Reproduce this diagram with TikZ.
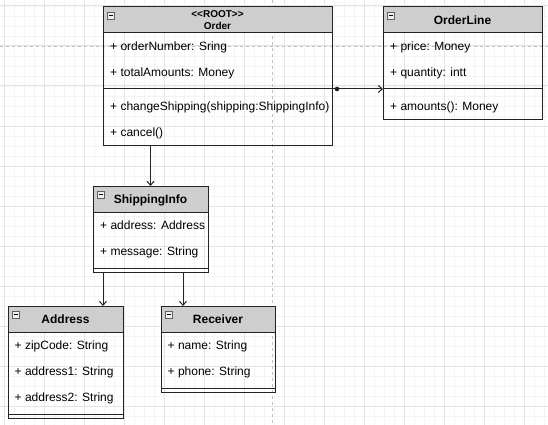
\documentclass[tikz,border=0pt]{standalone}
\usepackage{fontspec}
\setmainfont{Liberation Sans}
\usetikzlibrary{arrows.meta}
\definecolor{hdrfill}{RGB}{206,206,206}
\definecolor{minorg}{RGB}{244,244,244}
\definecolor{majorg}{RGB}{228,228,228}
\definecolor{pageln}{RGB}{192,192,192}
\definecolor{edgec}{RGB}{35,35,35}
\begin{document}
\begin{tikzpicture}[x=1pt,y=-1pt,
  box/.style={draw=edgec, line width=1pt, anchor=north west, inner sep=0, outer sep=0},
  head/.style={draw=edgec, line width=1pt, fill=hdrfill, anchor=north west, inner sep=0, outer sep=0, minimum height=26},
  row/.style={anchor=west, inner sep=0, text height=8.6, text depth=0, font=\fontsize{12}{14}\selectfont},
  ttl/.style={inner sep=0, text height=8.6, text depth=0, font=\fontsize{12}{14}\selectfont\bfseries},
  icon/.style={draw=gray!75!black, fill=gray!12, line width=0.6pt, minimum size=7, inner sep=0, anchor=north west,
    path picture={\draw[black, line width=1.3pt] ([xshift=1.6pt]path picture bounding box.west) -- ([xshift=-1.6pt]path picture bounding box.east);}},
  sepline/.style={draw=edgec, line width=1pt},
  conn/.style={draw=edgec, line width=1pt, -{Straight Barb[length=4,width=7]}},
  minorline/.style={draw=minorg, line width=0.8pt},
  majorline/.style={draw=majorg, line width=1pt},
  pagebreak/.style={draw=pageln, line width=0.8pt, dash pattern=on 3pt off 3pt}
]
\useasboundingbox[fill=white] (0,0) rectangle (548,425);
% grid
\foreach \x in {4,14,...,544} \draw[minorline] (\x,0) -- (\x,425);
\foreach \y in {6,16,...,416} \draw[minorline] (0,\y) -- (548,\y);
\foreach \x in {4,44,...,524} \draw[majorline] (\x,0) -- (\x,425);
\foreach \y in {6,46,...,406} \draw[majorline] (0,\y) -- (548,\y);
% page breaks
\draw[pagebreak] (0,46) -- (548,46);
\draw[pagebreak] (272,0) -- (272,425);

% Order
\node[box, minimum width=229, minimum height=138] (order) at (103,7) {};
\node[head, minimum width=229] (orderH) at (103,7) {};
\node[icon] (orderI) at (107,12) {};
\node[inner sep=0, align=center, font=\fontsize{10}{11.5}\selectfont\bfseries] (orderT) at (217.5,20.3) {<\kern0pt<ROOT>\kern0pt>\\Order};
\node[row] (orderA1) at (110,46) {+ orderNumber: Sring};
\node[row] (orderA2) at (110,72) {+ totalAmounts: Money};
\draw[sepline] (103,89) -- (332,89);
\node[row] (orderM1) at (110,106) {+ changeShipping(shipping:ShippingInfo)};
\node[row] (orderM2) at (110,132) {+ cancel()};

% OrderLine
\node[box, minimum width=159, minimum height=112] (orderline) at (383,7) {};
\node[head, minimum width=159] (orderlineH) at (383,7) {};
\node[icon] (orderlineI) at (387,12) {};
\node[ttl] (orderlineT) at (462.5,20) {OrderLine};
\node[row] (orderlineA1) at (390,46) {+ price: Money};
\node[row] (orderlineA2) at (390,72) {+ quantity: intt};
\draw[sepline] (383,89) -- (542,89);
\node[row] (orderlineM1) at (390,106) {+ amounts(): Money};

% ShippingInfo
\node[box, minimum width=115, minimum height=86] (ship) at (93,186) {};
\node[head, minimum width=115] (shipH) at (93,186) {};
\node[icon] (shipI) at (97,191) {};
\node[ttl] (shipT) at (150.5,199) {ShippingInfo};
\node[row] (shipA1) at (100,225) {+ address: Address};
\node[row] (shipA2) at (100,251) {+ message: String};
\draw[sepline] (93,268) -- (208,268);

% Address
\node[box, minimum width=115, minimum height=112] (address) at (8,306) {};
\node[head, minimum width=115] (addressH) at (8,306) {};
\node[icon] (addressI) at (12,311) {};
\node[ttl] (addressT) at (65.5,319) {Address};
\node[row] (addressA1) at (14.5,345) {+ zipCode: String};
\node[row] (addressA2) at (14.5,371) {+ address1: String};
\node[row] (addressA3) at (14.5,397) {+ address2: String};
\draw[sepline] (8,414) -- (123,414);

% Receiver
\node[box, minimum width=114, minimum height=86] (receiver) at (161,306) {};
\node[head, minimum width=114] (receiverH) at (161,306) {};
\node[icon] (receiverI) at (165,311) {};
\node[ttl] (receiverT) at (218,319) {Receiver};
\node[row] (receiverA1) at (167.5,345) {+ name: String};
\node[row] (receiverA2) at (167.5,371) {+ phone: String};
\draw[sepline] (161,388) -- (275,388);

% connectors
\draw[conn] ([yshift=-82]order.north east) -- ([yshift=-82]orderline.north west);
\fill[edgec] ([xshift=5,yshift=-82]order.north east) circle (2.3);
\draw[conn] (order.south -| ship.north) -- (ship.north);
\coordinate (shipToAddr) at ([xshift=10]ship.south west);
\coordinate (shipToRecv) at ([xshift=-25]ship.south east);
\draw[conn] (shipToAddr) -- (shipToAddr |- address.north);
\draw[conn] (shipToRecv) -- (shipToRecv |- receiver.north);
\end{tikzpicture}
\end{document}
